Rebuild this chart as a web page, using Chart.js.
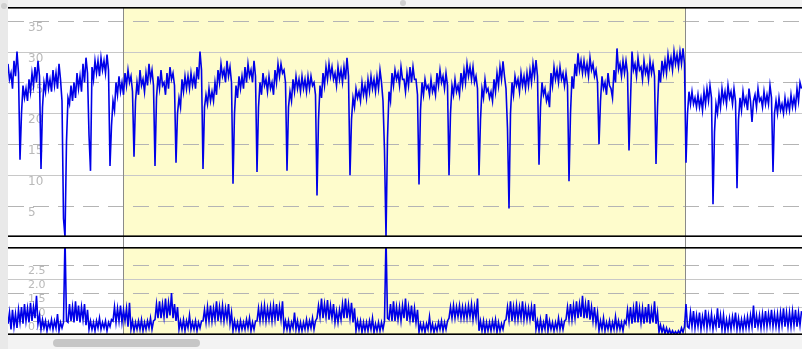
<!DOCTYPE html>
<html>
<head>
<meta charset="utf-8">
<script src="https://cdn.jsdelivr.net/npm/chart.js@4/dist/chart.umd.min.js"></script>
<style>
  html, body { margin: 0; padding: 0; }
  body { width: 802px; height: 349px; position: relative; overflow: hidden; background: #f3f3f3; }
  canvas { position: absolute; background: #fff; }
  #left-strip { position: absolute; left: 0; top: 0; width: 8px; height: 349px; background: #e9e9e9; }
  #scroll-thumb { position: absolute; left: 53px; top: 339px; width: 147px; height: 8px;
                  border-radius: 4px; background: #c6c6c6; }
  .knob { position: absolute; width: 6px; height: 6px; border-radius: 3px; background: #cfcfcf; }
</style>
</head>
<body>
<div id="left-strip"></div>
<div class="knob" style="left:1px;top:3px"></div>
<div class="knob" style="left:400px;top:0px"></div>
<canvas id="top-chart" width="794" height="240" style="left:8px;top:7px"></canvas>
<canvas id="bottom-chart" width="794" height="88" style="left:8px;top:247px"></canvas>
<div id="scroll-thumb"></div>
<script>
"use strict";

const $ = (id) => document.getElementById(id);

// one reading every 1.5 px of trace (high / low pairs follow each other)
const X_STEP = 1.5;

const TOP_VALUES = [
  28, 25.5, 26.5, 24, 28.5, 26, 30, 26.5, 12.5, 20,
  24.5, 22.5, 24, 22, 25.5, 23.5, 26.5, 24.5, 27.5, 25,
  28.5, 26, 11, 21, 25, 23.5, 26.5, 24, 25.5, 23.5,
  27, 24.5, 26.5, 24, 28, 25.5, 22, 3, 0, 15.5,
  22.5, 21.5, 24.5, 22, 25, 22.5, 26.5, 24, 26, 23.5,
  28, 25, 29, 26.5, 16.5, 10.7, 27.5, 25.5, 28.5, 26.5,
  28.5, 26, 29, 27, 28.5, 26.5, 29.5, 27, 11.5, 18,
  22, 20.5, 25, 23, 26, 23.5, 25, 23, 26.5, 24.5,
  27, 25, 26, 23.5, 13, 22, 25, 23, 27, 24.5,
  25.5, 23.5, 26.5, 24.5, 28, 25.5, 27, 24.5, 11.5, 22.5,
  26, 24, 27, 24.5, 25, 23, 26.5, 24, 27.5, 25.5,
  26.5, 24.5, 12, 20, 22.5, 21, 25.5, 23.5, 26, 24,
  26, 24, 26.5, 24.5, 26, 24, 27.5, 25.5, 30, 27,
  11, 21, 23, 21.5, 24, 22, 23.5, 22, 25, 23,
  27, 25, 28, 26, 27, 25, 28.5, 26, 27.5, 25,
  8.6, 20, 24.5, 22.5, 26, 24, 26, 24, 27.5, 25,
  28, 26, 27, 25, 28.5, 26, 10.5, 21, 25, 23,
  26.5, 24.5, 25.5, 23.5, 26, 24, 25, 23, 27, 25,
  28, 26, 28, 26.5, 27, 25, 10.7, 21, 23.5, 22,
  25.5, 23.5, 26, 24, 25.5, 23.5, 26, 24, 25.5, 23.5,
  26, 24, 26, 24.5, 25, 23, 6.7, 19, 24.5, 22.5,
  26.5, 24.5, 27.5, 25.5, 28, 26, 27.5, 25.5, 26.5, 24.5,
  27.5, 25.5, 27, 25, 27.5, 25.5, 29, 26, 10, 19,
  22.5, 21, 24, 22.5, 23.5, 22, 25, 23, 24.5, 22.5,
  25.5, 23.5, 26, 24, 25.5, 23.5, 26, 24, 27, 25,
  22, 14, 0, 16, 23.5, 22, 26.5, 24.5, 27, 25.5,
  26.5, 24.5, 27.5, 25.5, 25.5, 23.5, 26.5, 24.5, 27.5, 25,
  27.5, 25.5, 25.5, 23, 8.5, 20.5, 25, 23, 25.5, 24,
  24.5, 23, 25.5, 23.5, 24.5, 23, 26.5, 24.5, 27, 25,
  26, 24, 26.5, 24.5, 10, 20, 24.5, 23, 25.5, 23.5,
  24.5, 23, 26.5, 24.5, 27, 25, 28, 26, 27.5, 25.5,
  27.5, 25, 26, 24, 10, 19, 24, 22.5, 25.5, 23.5,
  24, 22.5, 23.5, 22, 25.5, 23.5, 26.5, 24.5, 27.5, 25.5,
  28.4, 26, 24, 17.5, 4.6, 20, 25, 23, 26, 24.5,
  25.5, 23.5, 26.5, 24.5, 26, 24, 26.5, 24.5, 27, 25,
  28, 26, 28.6, 26, 11.7, 21, 25, 23, 24, 22,
  23, 21, 26.5, 24.5, 27.5, 25.5, 27, 25, 27.5, 25.5,
  26.5, 24.5, 26.5, 24.5, 9, 20, 26, 24, 28, 26,
  29.7, 27, 28.5, 26.5, 28.5, 26.5, 28, 26, 29, 27,
  28, 26, 27, 25, 15, 22, 26, 24, 25, 23,
  26.5, 24.5, 24, 22.5, 27, 25, 30.5, 27, 28, 26,
  28.5, 26.5, 28.5, 26.5, 14, 22, 30, 27, 28, 26,
  29, 27, 27.5, 25.5, 28.5, 26.5, 27.5, 25.5, 28.5, 26.5,
  28, 26, 11.8, 21, 27, 25, 28.5, 26.5, 28.5, 26.5,
  29.5, 27.5, 29, 27, 30, 28, 29.5, 27.5, 30, 28,
  30.5, 28, 12, 20, 23.5, 21.5, 23.5, 21.5, 22.5, 21,
  23, 21, 22.5, 20.5, 23.5, 21.5, 24, 22, 24.5, 22.5,
  5.3, 17, 21.5, 20, 23, 21, 24, 22, 23.5, 21.5,
  24.5, 22.5, 23.5, 21.5, 24, 22, 7.9, 19, 22.5, 20.5,
  23.5, 21.5, 22.5, 20.5, 24, 22, 18.6, 22, 23, 21,
  24, 22, 22.5, 21, 23.5, 21.5, 23, 21.5, 24.5, 22.5,
  10.5, 20, 22, 20, 22.5, 20.5, 21.5, 20, 22.5, 20.5,
  22, 20.5, 23, 21, 22.5, 21, 24, 22, 25, 24,
];

const BOTTOM_VALUES = [
  0.4, 0.8, 0.2, 0.9, 0.3, 0.75, 0.25, 0.9, 0.45, 1.0,
  0.4, 1.1, 0.5, 0.95, 0.45, 1.15, 0.5, 1.0, 0.6, 1.4,
  0.4, 0.7, 0.2, 0.55, 0.25, 0.5, 0.15, 0.45, 0.25, 0.55,
  0.2, 0.5, 0.25, 0.75, 0.15, 0.45, 0.25, 0.45, 3.5, 0.5,
  0.45, 1.1, 0.5, 1.0, 0.45, 1.2, 0.5, 1.05, 0.45, 1.0,
  0.55, 1.1, 0.35, 0.9, 0.2, 0.5, 0.2, 0.45, 0.15, 0.5,
  0.25, 0.6, 0.2, 0.45, 0.25, 0.5, 0.15, 0.45, 0.3, 0.55,
  0.5, 1.0, 0.45, 0.95, 0.5, 1.05, 0.45, 0.9, 0.5, 0.95,
  0.3, 1.15, 0.2, 0.5, 0.15, 0.45, 0.2, 0.5, 0.2, 0.55,
  0.15, 0.45, 0.2, 0.5, 0.25, 0.6, 0.2, 0.5, 0.55, 1.1,
  0.6, 1.2, 0.6, 1.1, 0.65, 1.3, 0.6, 1.15, 0.7, 1.5,
  0.6, 1.1, 0.5, 1.0, 0.2, 0.5, 0.2, 0.55, 0.15, 0.5,
  0.25, 0.7, 0.2, 0.45, 0.2, 0.5, 0.15, 0.45, 0.25, 0.5,
  0.5, 0.9, 0.45, 1.0, 0.5, 1.05, 0.5, 0.95, 0.55, 1.2,
  0.5, 1.0, 0.55, 1.05, 0.5, 0.95, 0.55, 1.1, 0.4, 0.8,
  0.15, 0.5, 0.2, 0.45, 0.15, 0.5, 0.2, 0.45, 0.2, 0.55,
  0.25, 0.6, 0.15, 0.45, 0.2, 0.5, 0.5, 0.95, 0.5, 1.0,
  0.55, 1.05, 0.5, 0.95, 0.55, 1.0, 0.5, 1.05, 0.55, 1.1,
  0.5, 1.0, 0.55, 1.2, 0.2, 0.5, 0.2, 0.5, 0.15, 0.45,
  0.25, 0.8, 0.2, 0.5, 0.15, 0.45, 0.15, 0.45, 0.2, 0.55,
  0.2, 0.5, 0.25, 0.6, 0.2, 0.5, 0.6, 1.05, 0.65, 1.3,
  0.6, 1.1, 0.65, 1.25, 0.55, 1.05, 0.6, 1.1, 0.45, 0.85,
  0.45, 0.9, 0.55, 1.1, 0.6, 1.3, 0.6, 1.1, 0.6, 1.15,
  0.45, 0.95, 0.15, 0.5, 0.2, 0.5, 0.1, 0.45, 0.15, 0.45,
  0.15, 0.5, 0.2, 0.6, 0.1, 0.4, 0.15, 0.45, 0.15, 0.45,
  0.2, 0.5, 3.5, 0.6, 0.55, 1.1, 0.5, 1.2, 0.5, 1.0,
  0.55, 1.0, 0.5, 1.05, 0.6, 1.3, 0.5, 1.0, 0.55, 1.05,
  0.45, 0.95, 0.45, 0.9, 0.1, 0.4, 0.15, 0.4, 0.1, 0.4,
  0.2, 0.65, 0.15, 0.4, 0.1, 0.35, 0.15, 0.45, 0.2, 0.5,
  0.15, 0.45, 0.2, 0.5, 0.6, 1.0, 0.6, 1.05, 0.6, 1.0,
  0.65, 1.05, 0.6, 1.0, 0.6, 1.0, 0.6, 1.05, 0.65, 1.1,
  0.55, 1.0, 0.6, 1.3, 0.15, 0.5, 0.15, 0.5, 0.1, 0.45,
  0.15, 0.45, 0.15, 0.5, 0.2, 0.55, 0.1, 0.45, 0.15, 0.4,
  0.2, 0.5, 0.55, 1.0, 0.55, 1.2, 0.5, 1.0, 0.55, 1.05,
  0.55, 1.0, 0.6, 1.2, 0.55, 1.0, 0.55, 0.95, 0.55, 1.0,
  0.5, 1.1, 0.2, 0.5, 0.15, 0.55, 0.15, 0.45, 0.2, 0.75,
  0.15, 0.5, 0.2, 0.45, 0.15, 0.45, 0.2, 0.6, 0.2, 0.5,
  0.2, 0.5, 0.55, 1.0, 0.55, 1.1, 0.55, 1.05, 0.6, 1.2,
  0.6, 1.1, 0.65, 1.4, 0.6, 1.1, 0.6, 1.25, 0.55, 1.0,
  0.5, 1.0, 0.4, 0.8, 0.15, 0.5, 0.2, 0.6, 0.15, 0.45,
  0.2, 0.5, 0.15, 0.45, 0.2, 0.65, 0.2, 0.5, 0.2, 0.45,
  0.15, 0.5, 0.4, 0.9, 0.45, 1.0, 0.4, 0.95, 0.45, 1.2,
  0.45, 0.95, 0.45, 0.95, 0.4, 1.0, 0.45, 1.1, 0.4, 0.9,
  0.45, 1.2, 0.4, 0.8, 0.1, 0.35, 0.1, 0.3, 0.05, 0.25,
  0.05, 0.2, 0.03, 0.15, 0.03, 0.12, 0.03, 0.15, 0.05, 0.25,
  0.1, 0.3, 1.1, 0.3, 0.25, 0.8, 0.3, 0.85, 0.25, 0.7,
  0.3, 0.8, 0.2, 0.65, 0.3, 0.9, 0.25, 0.7, 0.3, 0.75,
  0.2, 0.6, 0.3, 0.95, 0.25, 0.7, 0.2, 0.7, 0.15, 0.55,
  0.2, 0.6, 0.2, 0.65, 0.3, 0.8, 0.2, 0.6, 0.2, 0.55,
  0.2, 0.6, 0.25, 0.65, 0.25, 0.7, 0.3, 1.05, 0.25, 0.7,
  0.3, 0.7, 0.25, 0.75, 0.3, 0.85, 0.3, 0.75, 0.35, 0.9,
  0.3, 0.75, 0.3, 0.75, 0.25, 0.8, 0.35, 0.95, 0.3, 0.8,
  0.3, 0.8, 0.3, 0.85, 0.35, 0.9, 0.3, 0.8, 0.35, 0.85,
];

const TOP_TICKS = [35, 30, 25, 20, 15, 10, 5];
const BOTTOM_TICKS = [2.5, 2.0, 1.5, 1.0, 0.5];
const BAND = [115, 677];               // highlighted window on the time axis
const X_MAX = 794;

// yellow window + alternating dashed/solid grid + in-plot labels, then black frame on top
const panel = {
  id: "panel",
  beforeDatasetsDraw(chart, args, o) {
    const { ctx, chartArea: a, scales: { x, y } } = chart;
    const x0 = x.getPixelForValue(BAND[0]), x1 = x.getPixelForValue(BAND[1]);
    ctx.save();
    ctx.fillStyle = "#fefccc";
    ctx.fillRect(x0, a.top, x1 - x0, a.bottom - a.top);
    o.ticks.forEach((v, i) => {
      const py = Math.round(y.getPixelForValue(v)) + 0.5;
      ctx.beginPath();
      ctx.setLineDash(i % 2 === 0 ? [16, 9] : []);
      ctx.strokeStyle = i % 2 === 0 ? "#b4b4b4" : "#c8c8c8";
      ctx.lineWidth = 1;
      ctx.moveTo(a.left, py); ctx.lineTo(a.right, py);
      ctx.stroke();
    });
    ctx.setLineDash([]);
    ctx.strokeStyle = "#8a8a8a";
    [x0, x1].forEach((px) => {
      ctx.beginPath();
      ctx.moveTo(Math.round(px) + 0.5, a.top);
      ctx.lineTo(Math.round(px) + 0.5, chart.height);
      ctx.stroke();
    });
    ctx.fillStyle = "#b9b9b9";
    ctx.font = o.font;
    ctx.textBaseline = "top";
    o.ticks.forEach((v) => ctx.fillText(v.toFixed(o.decimals), a.left + 20, y.getPixelForValue(v) + 1));
    ctx.restore();
  },
  afterDatasetsDraw(chart) {
    const { ctx, chartArea: a } = chart;
    ctx.save();
    ctx.fillStyle = "#000";
    ctx.fillRect(a.left, a.top, a.right - a.left, 1.6);
    ctx.fillRect(a.left, a.bottom - 1.6, a.right - a.left, 1.6);
    ctx.restore();
  },
};

function makePanel(id, values, yMax, ticks, font, decimals, padBottom) {
  return new Chart($(id), {
    type: "line",
    data: { datasets: [{
      data: values.map((v, i) => ({ x: i * X_STEP, y: v })),
      borderColor: "#0000e8", borderWidth: 1.6, pointRadius: 0, tension: 0,
    }] },
    options: {
      responsive: false, animation: false, events: [],
      layout: { padding: { left: 0, right: 0, top: 0, bottom: padBottom } },
      plugins: { legend: { display: false }, tooltip: { enabled: false },
                 panel: { ticks, font, decimals } },
      scales: {
        x: { type: "linear", display: false, min: 0, max: X_MAX },
        y: { display: false, min: 0, max: yMax },
      },
    },
    plugins: [panel],
  });
}

makePanel("top-chart", TOP_VALUES, 37.2, TOP_TICKS, "12px 'DejaVu Sans'", 0, 10);
makePanel("bottom-chart", BOTTOM_VALUES, 3.14, BOTTOM_TICKS, "11px 'DejaVu Sans'", 1, 0);
</script>
</body>
</html>
